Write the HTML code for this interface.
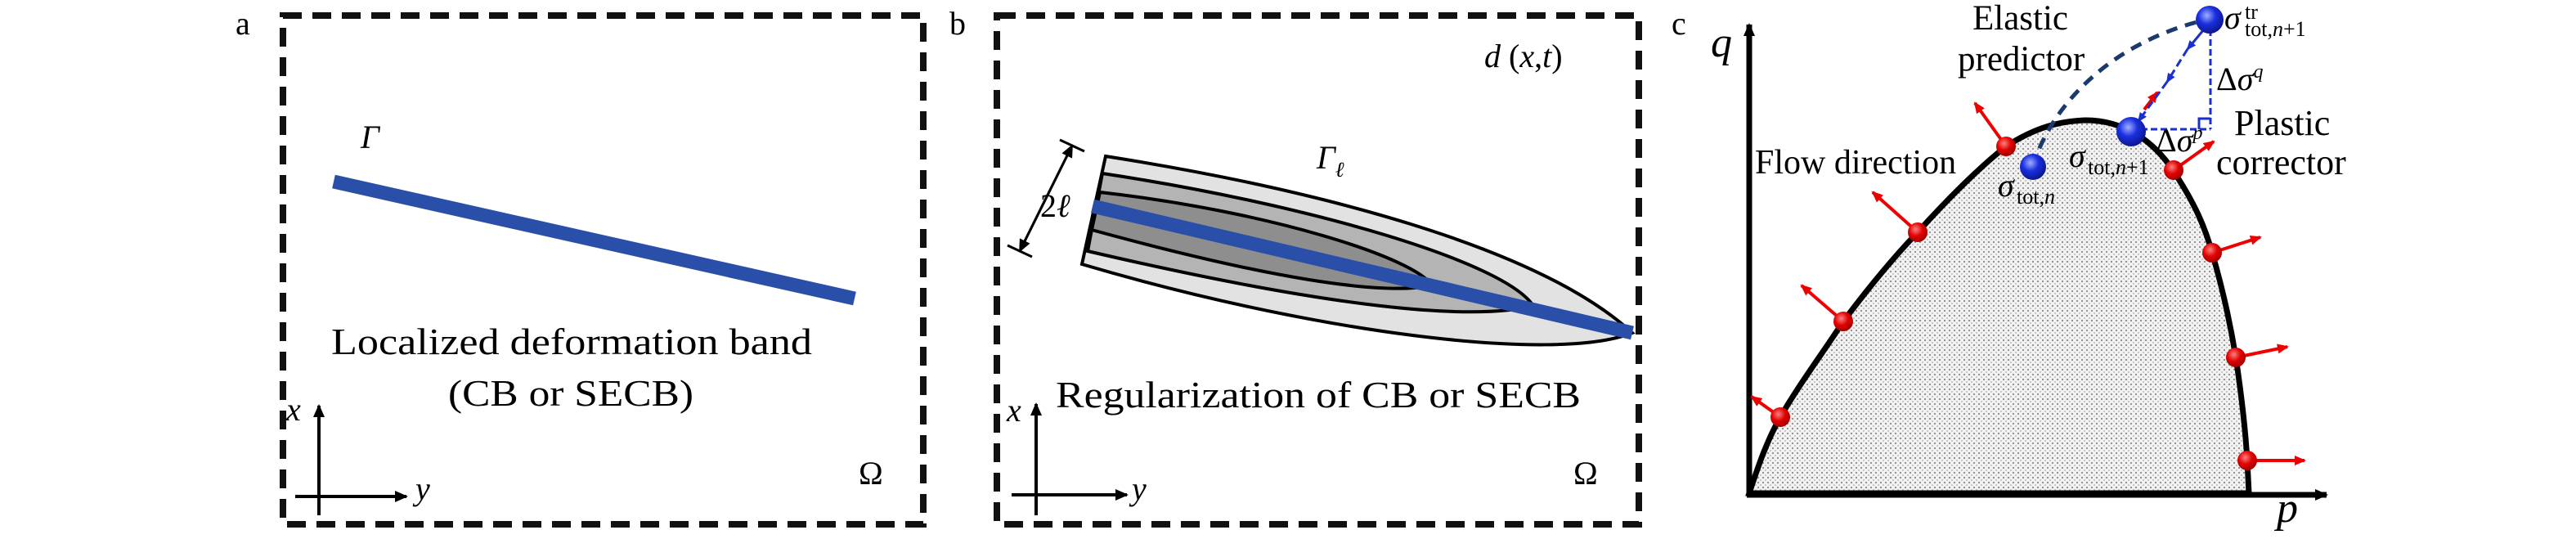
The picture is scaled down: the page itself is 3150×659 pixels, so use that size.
<!DOCTYPE html>
<html><head><meta charset="utf-8"><style>
html,body{margin:0;padding:0;background:#fff;}
svg{display:block;}
text{font-family:"Liberation Serif",serif;fill:#000;}
.it{font-style:italic;}
</style></head><body>
<svg width="3150" height="659" viewBox="0 0 3150 659" xmlns="http://www.w3.org/2000/svg">
<defs>
<pattern id="dots" width="6" height="6" patternUnits="userSpaceOnUse">
<rect width="6" height="6" fill="#f2f2f2"/>
<circle cx="2" cy="2" r="1.1" fill="#8a8a8a"/>
<circle cx="5" cy="5" r="0.9" fill="#aaa"/>
</pattern>
<radialGradient id="rb" cx="0.4" cy="0.35" r="0.7"><stop offset="0" stop-color="#ff8080"/><stop offset="0.5" stop-color="#e00000"/><stop offset="1" stop-color="#900"/></radialGradient>
<radialGradient id="bb" cx="0.4" cy="0.35" r="0.7"><stop offset="0" stop-color="#a0b0ff"/><stop offset="0.45" stop-color="#1a2fe0"/><stop offset="1" stop-color="#0a1480"/></radialGradient>
<marker id="ra" markerWidth="14" markerHeight="12" refX="12" refY="6" orient="auto" markerUnits="userSpaceOnUse"><path d="M0,0 L14,6 L0,12 z" fill="#e00"/></marker>
<marker id="ka" markerWidth="16" markerHeight="14" refX="14" refY="7" orient="auto" markerUnits="userSpaceOnUse"><path d="M0,0 L16,7 L0,14 z" fill="#000"/></marker>
<marker id="ba" markerWidth="12" markerHeight="10" refX="10" refY="5" orient="auto" markerUnits="userSpaceOnUse"><path d="M0,0 L12,5 L0,10 z" fill="#1a2fd0"/></marker>
</defs>

<!-- Panel a -->
<rect x="346" y="19" width="783" height="622" fill="none" stroke="#111" stroke-width="8" stroke-dasharray="23 13"/>
<text x="288" y="42" font-size="40">a</text>
<text x="441" y="181" font-size="40" class="it">Γ</text>
<line x1="408" y1="222" x2="1045" y2="365" stroke="#2a4fa8" stroke-width="17"/>
<text x="405" y="433" font-size="46" textLength="588" lengthAdjust="spacingAndGlyphs">Localized deformation band</text>
<text x="548" y="496" font-size="46" textLength="300" lengthAdjust="spacingAndGlyphs">(CB or SECB)</text>
<line x1="390" y1="630" x2="390" y2="496" stroke="#000" stroke-width="4" marker-end="url(#ka)"/>
<line x1="361" y1="607" x2="497" y2="607" stroke="#000" stroke-width="4" marker-end="url(#ka)"/>
<text x="350" y="514" font-size="40" class="it">x</text>
<text x="508" y="611" font-size="40" class="it">y</text>
<text x="1050" y="592" font-size="40">Ω</text>

<!-- Panel b -->
<rect x="1219" y="19" width="785" height="622" fill="none" stroke="#111" stroke-width="8" stroke-dasharray="23 13"/>
<text x="1161" y="42" font-size="40">b</text>
<text x="1815" y="82" font-size="40"><tspan class="it">d</tspan> (<tspan class="it">x</tspan>,<tspan class="it">t</tspan>)</text>
<text x="1610" y="206" font-size="40" class="it">Γ<tspan font-size="26" dy="10">ℓ</tspan></text>
<path d="M1352,191 C1600,230 1880,300 1996,407 C1900,445 1600,405 1323,323 Z" fill="#e2e2e2" stroke="#000" stroke-width="4"/>
<path d="M1348,212 C1600,250 1840,320 1875,374 C1790,395 1600,370 1330,307 Z" fill="#b4b4b4" stroke="#000" stroke-width="4"/>
<path d="M1345,235 C1550,258 1730,315 1751,349 C1690,362 1550,340 1335,281 Z" fill="#8e8e8e" stroke="#000" stroke-width="4"/>
<line x1="1336" y1="252" x2="1996" y2="407" stroke="#2a4fa8" stroke-width="17"/>
<line x1="1311" y1="178" x2="1247" y2="307" stroke="#000" stroke-width="3" marker-end="url(#ka)"/>
<line x1="1247" y1="307" x2="1311" y2="178" stroke="#000" stroke-width="3" marker-end="url(#ka)"/>
<line x1="1296" y1="171" x2="1326" y2="185" stroke="#000" stroke-width="3"/>
<line x1="1232" y1="300" x2="1262" y2="314" stroke="#000" stroke-width="3"/>
<text x="1272" y="265" font-size="40"><tspan>2</tspan><tspan class="it">ℓ</tspan></text>
<text x="1291" y="498" font-size="46" textLength="642" lengthAdjust="spacingAndGlyphs">Regularization of CB or SECB</text>
<line x1="1267" y1="630" x2="1267" y2="494" stroke="#000" stroke-width="4" marker-end="url(#ka)"/>
<line x1="1237" y1="605" x2="1378" y2="605" stroke="#000" stroke-width="4" marker-end="url(#ka)"/>
<text x="1231" y="515" font-size="40" class="it">x</text>
<text x="1384" y="611" font-size="40" class="it">y</text>
<text x="1924" y="592" font-size="40">Ω</text>

<!-- Panel c -->
<text x="2044" y="42" font-size="40">c</text>
<path d="M2139,603 C2150,570 2160,540 2177,510 C2200,470 2230,430 2254,393 C2290,345 2320,310 2345,284 C2380,245 2420,205 2453,179 C2490,155 2520,148 2550,147 C2600,147 2635,175 2657,208 C2685,250 2697,280 2705,309 C2720,360 2728,400 2734,437 C2742,490 2746,530 2748,563 L2750,603 Z" fill="url(#dots)" stroke="#000" stroke-width="7"/>
<line x1="2139" y1="605" x2="2139" y2="30" stroke="#000" stroke-width="7" marker-end="url(#ka)"/>
<line x1="2136" y1="605" x2="2845" y2="605" stroke="#000" stroke-width="7" marker-end="url(#ka)"/>
<text x="2092" y="69" font-size="52" class="it">q</text>
<text x="2784" y="638" font-size="52" class="it">p</text>
<g stroke="#e00" stroke-width="4" marker-end="url(#ra)">
<line x1="2177" y1="510" x2="2142" y2="485"/>
<line x1="2254" y1="393" x2="2203" y2="349"/>
<line x1="2345" y1="284" x2="2290" y2="235"/>
<line x1="2453" y1="179" x2="2415" y2="126"/>
<line x1="2658" y1="208" x2="2707" y2="173"/>
<line x1="2705" y1="309" x2="2764" y2="290"/>
<line x1="2734" y1="437" x2="2797" y2="424"/>
<line x1="2748" y1="563" x2="2818" y2="563"/>
<line x1="2622" y1="134" x2="2638" y2="113"/>
</g>
<g fill="url(#rb)">
<circle cx="2177" cy="510" r="12"/><circle cx="2254" cy="393" r="12"/><circle cx="2345" cy="284" r="12"/><circle cx="2453" cy="179" r="12"/>
<circle cx="2658" cy="208" r="12"/><circle cx="2705" cy="309" r="12"/><circle cx="2734" cy="437" r="12"/><circle cx="2748" cy="563" r="12"/>
</g>
<path d="M2486,204 C2500,150 2560,60 2690,26" fill="none" stroke="#1a3a6e" stroke-width="5" stroke-dasharray="14 10"/>
<line x1="2703" y1="24" x2="2703" y2="158" stroke="#1a2fd0" stroke-width="3" stroke-dasharray="8 4"/>
<line x1="2606" y1="158" x2="2703" y2="158" stroke="#1a2fd0" stroke-width="3" stroke-dasharray="8 4"/>
<path d="M2689,158 L2689,145 L2703,145" fill="none" stroke="#1a2fd0" stroke-width="3"/>
<line x1="2700" y1="30" x2="2675" y2="60" stroke="#1a2fd0" stroke-width="3" marker-end="url(#ba)"/>
<line x1="2675" y1="60" x2="2650" y2="100" stroke="#1a2fd0" stroke-width="3" stroke-dasharray="10 5" marker-end="url(#ba)"/>
<line x1="2650" y1="100" x2="2615" y2="148" stroke="#1a2fd0" stroke-width="3" stroke-dasharray="10 5" marker-end="url(#ba)"/>
<circle cx="2486" cy="204" r="16" fill="url(#bb)"/>
<circle cx="2606" cy="161" r="18" fill="url(#bb)"/>
<circle cx="2702" cy="24" r="17" fill="url(#bb)"/>
<text x="2412" y="36" font-size="43">Elastic</text>
<text x="2394" y="86" font-size="43">predictor</text>
<text x="2146" y="212" font-size="42">Flow direction</text>
<text x="2732" y="165" font-size="44">Plastic</text>
<text x="2710" y="213" font-size="44">corrector</text>
<text x="2710" y="110" font-size="40">Δ<tspan class="it">σ</tspan><tspan class="it" font-size="24" dy="-15">q</tspan></text>
<text x="2636" y="185" font-size="40">Δ<tspan class="it">σ</tspan><tspan class="it" font-size="24" dy="-15">p</tspan></text>
<text x="2720" y="35" font-size="40" class="it">σ</text>
<text x="2745" y="23" font-size="26">tr</text>
<text x="2745" y="44" font-size="26">tot,<tspan class="it">n</tspan>+1</text>
<text x="2530" y="204" font-size="40" class="it">σ</text>
<text x="2553" y="213" font-size="26">tot,<tspan class="it">n</tspan>+1</text>
<text x="2443" y="240" font-size="40" class="it">σ</text>
<text x="2466" y="249" font-size="26">tot,<tspan class="it">n</tspan></text>
</svg>
</body></html>
